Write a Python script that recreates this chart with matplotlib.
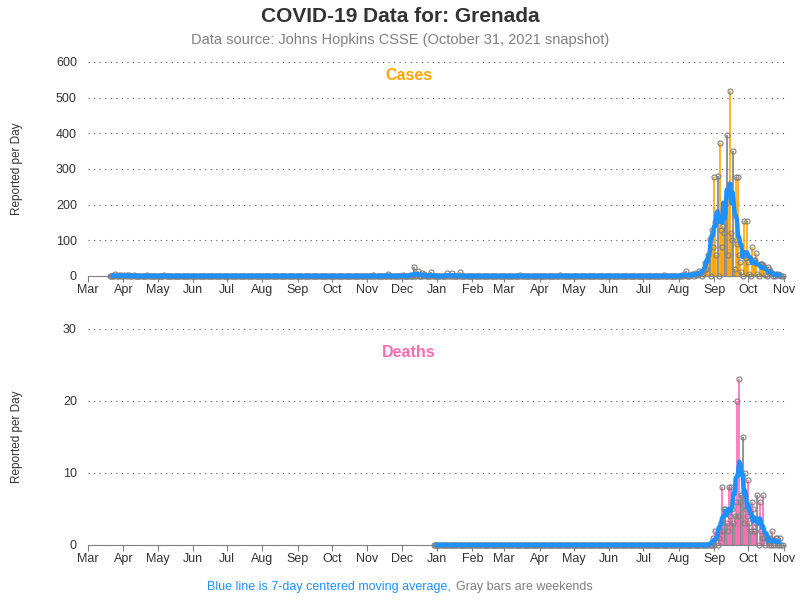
import pandas as pd
import matplotlib.pyplot as plt
import matplotlib.dates as mdates

# ---------------------------
# Data
# ---------------------------

cases_start = "2020-03-20"
deaths_start = "2020-12-29"
data_end = "2021-10-31"

# sparse early cases (all other days before Aug 2021 are zero)
early_case_dates = ["2020-03-22", "2020-03-25", "2020-03-28", "2020-03-30", "2020-04-02",
                    "2020-04-04", "2020-04-06", "2020-04-10", "2020-04-14", "2020-04-22",
                    "2020-05-07", "2020-10-17", "2020-11-06", "2020-11-19", "2020-12-02",
                    "2020-12-12", "2020-12-15", "2020-12-19", "2020-12-21", "2020-12-27",
                    "2021-01-10", "2021-01-14", "2021-01-21", "2021-03-15", "2021-04-19",
                    "2021-07-19"]
early_case_values = [1, 6, 2, 3, 2,
                     4, 2, 2, 1, 2,
                     2, 1, 2, 6, 3,
                     26, 15, 8, 5, 11,
                     8, 8, 10, 3, 2,
                     2]

# daily cases Aug 1 - Oct 31, 2021
wave_case_start = "2021-08-01"
wave_cases = [0, 0, 0, 2, 0, 3, 14, 0, 1, 0, 3, 2, 5, 0, 9, 3, 6, 4, 14, 8, 0, 5, 18, 37, 20, 45, 60, 103, 0, 130, 80,
              277, 150, 60, 280, 0, 374, 130, 80, 140, 120, 199, 395, 60, 258, 520, 120, 100, 350, 20, 278,
              90, 278, 60, 40, 10, 0, 153, 60, 50, 153,
              40, 5, 0, 80, 40, 45, 45, 64, 5, 0, 34, 35, 34, 30, 25, 3, 0, 24, 20, 15, 8, 9, 0, 0,
              6, 4, 6, 3, 2, 0, 0]

# daily deaths Aug 28 - Oct 31, 2021 (zero before)
wave_death_start = "2021-08-28"
wave_deaths = [0, 0, 0, 1,
               0, 2, 1, 0, 1, 2, 3, 8, 2, 5, 5, 3, 2, 8, 4, 8, 5, 3, 4, 6, 20, 4, 23, 6, 7, 15, 3, 10, 5, 4,
               9, 3, 2, 6, 5, 2, 2, 3, 7, 0, 6, 2, 1, 7, 1, 0, 1, 1, 0, 1, 0, 2, 0, 0, 1, 1, 0, 0, 1, 0, 0]

month_ticks = pd.date_range("2020-03-01", "2021-11-01", freq="MS")

# ---------------------------
# Build series
# ---------------------------

cases = pd.Series(0.0, index=pd.date_range(cases_start, data_end))
cases[pd.to_datetime(early_case_dates)] = early_case_values
cases[pd.date_range(wave_case_start, periods=len(wave_cases))] = wave_cases

deaths = pd.Series(0.0, index=pd.date_range(deaths_start, data_end))
deaths[pd.date_range(wave_death_start, periods=len(wave_deaths))] = wave_deaths

plt.rcParams['font.family'] = ['Liberation Sans', 'DejaVu Sans']

fig = plt.figure(figsize=(8, 6), dpi=100)

blue = "#1E90FF"
gray = "#808080"
dark = "#333333"


def draw_panel(ax, s, color, ymax, step, title, title_y):
    weekend = s.index.dayofweek >= 5
    bar_colors = [gray if w else color for w in weekend]
    ax.vlines(s.index, 0, s.values, colors=bar_colors, linewidth=1.2, zorder=2)
    ax.plot(s.index, s.values, "o", mfc="none", mec=gray, ms=3.6, mew=0.8,
            clip_on=False, zorder=3)
    ma = s.rolling(7, center=True).mean()
    ax.plot(ma.index, ma.values, color=blue, lw=3.2, zorder=4, clip_on=False)

    ax.set_xlim(pd.Timestamp("2020-03-01"), pd.Timestamp("2021-11-02"))
    ax.set_ylim(0, ymax)
    ax.set_yticks(range(0, ymax + 1, step))
    ax.set_xticks(month_ticks)
    ax.xaxis.set_major_formatter(mdates.DateFormatter("%b"))
    ax.grid(axis="y", linestyle=(0, (1, 4)), color="#555555", linewidth=0.8)
    ax.set_axisbelow(True)
    for side in ["top", "right", "left"]:
        ax.spines[side].set_visible(False)
    ax.spines["bottom"].set_color(gray)
    ax.spines["bottom"].set_linewidth(0.8)
    ax.tick_params(axis="x", colors=gray, length=4, labelsize=9, labelcolor=dark, pad=2)
    ax.tick_params(axis="y", length=0, labelsize=9, labelcolor=dark, pad=8)
    ax.set_ylabel("Reported per Day", fontsize=8.5, color=dark)
    ax.yaxis.set_label_coords(-0.093, 0.5)
    ax.text(0.46, title_y, title, transform=ax.transAxes, ha="center", va="center",
            color=color, fontsize=11.5, fontweight="bold")


ax1 = fig.add_axes([0.11, 0.54, 0.871, 0.3567])
draw_panel(ax1, cases, "#FFA500", 600, 100, "Cases", 0.939)

ax2 = fig.add_axes([0.11, 0.0917, 0.871, 0.36])
draw_panel(ax2, deaths, "#FF69B4", 30, 10, "Deaths", 0.889)

fig.text(0.5, 1 - 17 / 600, "COVID-19 Data for: Grenada", ha="center", va="center",
         fontsize=15, fontweight="bold", color=dark)
fig.text(0.5, 1 - 40 / 600, "Data source: Johns Hopkins CSSE (October 31, 2021 snapshot)",
         ha="center", va="center", fontsize=10.5, color=gray)
fig.text(451 / 800, 1 - 587 / 600, "Blue line is 7-day centered moving average,",
         ha="right", va="center", fontsize=9, color=blue)
fig.text(456 / 800, 1 - 587 / 600, "Gray bars are weekends",
         ha="left", va="center", fontsize=9, color=gray)

plt.savefig("out.png", dpi=100)
